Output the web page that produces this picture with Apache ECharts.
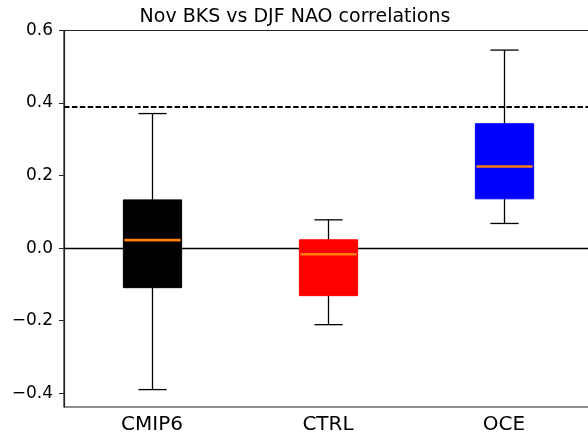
<!DOCTYPE html>
<html>
<head>
<meta charset="utf-8">
<script src="https://cdn.jsdelivr.net/npm/echarts@6/dist/echarts.min.js"></script>
<style>
html,body{margin:0;padding:0;background:#fff;}
#chart{width:588px;height:436px;}
</style>
</head>
<body>
<div id="chart"></div>
<script>
// ---- data ----
const categories = ['CMIP6', 'CTRL', 'OCE'];
const whiskerLow = [-0.390, -0.211, 0.068];
const q1 = [-0.109, -0.131, 0.136];
const median = [0.022, -0.017, 0.225];
const q3 = [0.133, 0.023, 0.343];
const whiskerHigh = [0.371, 0.078, 0.546];
const boxColors = ['#000000', '#ff0000', '#0000ff'];
const yTicks = [-0.4, -0.2, 0.0, 0.2, 0.4, 0.6];
const zeroLine = 0;
const thresholdLine = 0.39;

const boxData = categories.map((c, i) => [i, whiskerLow[i], q1[i], median[i], q3[i], whiskerHigh[i]]);

function renderItem(params, api) {
  const idx = api.value(0);
  const band = api.size([1, 0])[0];
  const boxW = band * 0.331;
  const capW = band * 0.16;
  const pLow = api.coord([idx, api.value(1)]);
  const pQ1 = api.coord([idx, api.value(2)]);
  const pMed = api.coord([idx, api.value(3)]);
  const pQ3 = api.coord([idx, api.value(4)]);
  const pHigh = api.coord([idx, api.value(5)]);
  const cx = Math.round(pMed[0]) + 0.5;
  const col = boxColors[idx];
  const lineStyle = { stroke: '#000', lineWidth: 1.3 };
  return {
    type: 'group',
    children: [
      { type: 'line', shape: { x1: cx, y1: pQ1[1], x2: cx, y2: pLow[1] }, style: lineStyle },
      { type: 'line', shape: { x1: cx, y1: pQ3[1], x2: cx, y2: pHigh[1] }, style: lineStyle },
      { type: 'line', shape: { x1: cx - capW / 2, y1: pLow[1], x2: cx + capW / 2, y2: pLow[1] }, style: lineStyle },
      { type: 'line', shape: { x1: cx - capW / 2, y1: pHigh[1], x2: cx + capW / 2, y2: pHigh[1] }, style: lineStyle },
      { type: 'rect', shape: { x: cx - boxW / 2, y: pQ3[1], width: boxW, height: pQ1[1] - pQ3[1] }, style: { fill: col, stroke: col, lineWidth: 1 } },
      { type: 'line', shape: { x1: cx - boxW / 2 + 1, y1: pMed[1], x2: cx + boxW / 2 - 1, y2: pMed[1] }, style: { stroke: '#ff7f0e', lineWidth: 2.6 } }
    ]
  };
}

const chart = echarts.init(document.getElementById('chart'), null, { renderer: 'canvas' });
const fontFamily = 'DejaVu Sans';
chart.setOption({
  animation: false,
  backgroundColor: '#ffffff',
  title: {
    text: 'Nov BKS vs DJF NAO correlations',
    left: 290,
    textAlign: 'center',
    top: 3,
    textStyle: { fontFamily: fontFamily, fontSize: 19, fontWeight: 'normal', color: '#000' }
  },
  grid: {
    left: 64, top: 30.5, right: -4, bottom: 29,
    show: true, borderColor: '#222', borderWidth: 1.2,
    outerBoundsMode: 'none', containLabel: false
  },
  xAxis: {
    type: 'category',
    data: categories,
    boundaryGap: true,
    axisLine: { lineStyle: { color: '#222', width: 1.2 } },
    axisTick: { alignWithLabel: true, length: 5, lineStyle: { color: '#222' } },
    axisLabel: { fontFamily: fontFamily, fontSize: 20, color: '#000', margin: 8 },
    splitLine: { show: false }
  },
  yAxis: {
    type: 'value',
    min: -0.438,
    max: 0.6,
    axisLine: { show: true, lineStyle: { color: '#222', width: 1.2 } },
    axisTick: { show: true, length: 5, customValues: yTicks, lineStyle: { color: '#222' } },
    axisLabel: {
      customValues: yTicks,
      fontFamily: fontFamily, fontSize: 17, color: '#000', margin: 11,
      formatter: v => v.toFixed(1).replace('-', '\u2212')
    },
    splitLine: { show: false }
  },
  series: [
    {
      type: 'line',
      data: [],
      z: 1,
      silent: true,
      markLine: {
        silent: true,
        symbol: ['none', 'none'],
        label: { show: false },
        data: [
          { yAxis: zeroLine, lineStyle: { type: 'solid', color: '#000', width: 1.3 } },
          { yAxis: thresholdLine, lineStyle: { type: [5.5, 2.4], color: '#000', width: 2 } }
        ]
      }
    },
    {
      type: 'custom',
      z: 5,
      renderItem: renderItem,
      encode: { x: 0, y: [1, 2, 3, 4, 5] },
      data: boxData
    }
  ]
});
</script>
</body>
</html>
